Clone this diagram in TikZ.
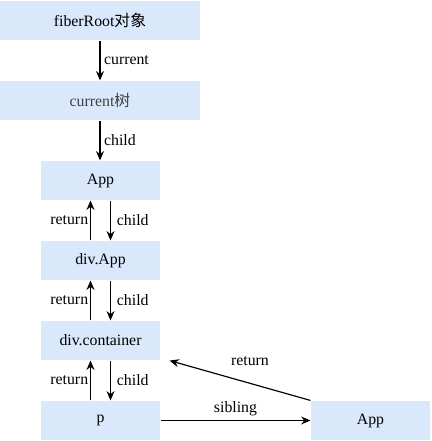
\documentclass[tikz,border=0pt]{standalone}
\usepackage{fontspec}
\setmainfont{Liberation Serif}
\newfontfamily\cjk{Noto Sans CJK SC}
\usepackage{tikz}
\usetikzlibrary{arrows.meta,positioning}
\definecolor{fiberblue}{HTML}{DAE8FC}
\tikzset{
  fnode/.style={fill=fiberblue, minimum width=3.57cm, minimum height=1.17cm,
                inner sep=0pt, font=\fontsize{13.5}{16}\selectfont},
  froot/.style={fnode, minimum width=6cm},
  lbl/.style={font=\fontsize{13.5}{16}\selectfont, inner sep=3pt},
}

\begin{document}
\begin{tikzpicture}[>={Stealth[length=2.8mm,width=2.4mm]}, line width=1pt]
    \useasboundingbox (0,0) rectangle (12.93,-13.23);
    \node[froot] (root) at (3.0,-0.615)   {fiberRoot{\cjk 对象}};
    \node[froot, text=black!75] (cur) at (3.0,-3.015) {current{\cjk 树}};
    \node[fnode] (app)    at (3.015,-5.415)  {App};
    \node[fnode] (divapp) at (3.015,-7.815)  {div.App};
    \node[fnode] (cont)   at (3.015,-10.215) {div.container};
    \node[fnode] (p)      at (3.015,-12.615) {p};
    \node[fnode] (app2)   at (11.115,-12.615) {App};
    \draw[->] (root) -- node[lbl, right]{current} (cur);
    \draw[->] (cur.south) -- node[lbl, right]{child} (cur.south |- app.north);
    \foreach \a/\b in {app/divapp, divapp/cont, cont/p} {
      \draw[->] ([xshift=-0.3cm]\b.north) -- node[lbl, left, inner sep=1.5pt]{return} ([xshift=-0.3cm]\a.south);
      \draw[->] ([xshift=0.3cm]\a.south) -- node[lbl, right, xshift=2pt]{child} ([xshift=0.3cm]\b.north);
    }
    \draw[->] (p) -- node[lbl, above]{sibling} (app2);
    \draw[->] (app2.north west) -- node[lbl, midway, xshift=0.3cm, yshift=0.57cm]{return} ([xshift=0.27cm]cont.south east);
\end{tikzpicture}
\end{document}
